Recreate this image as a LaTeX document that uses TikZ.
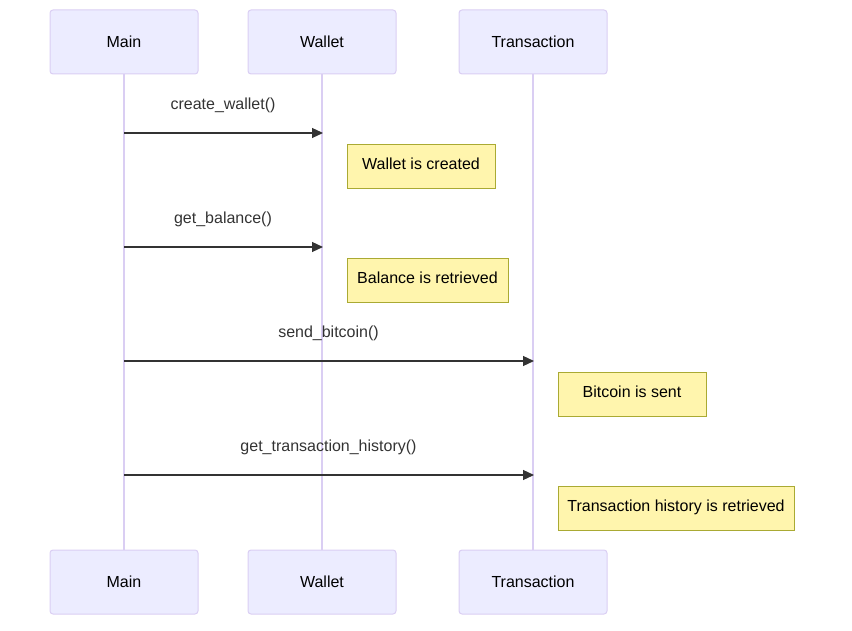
\documentclass[tikz,border=0pt]{standalone}
\usepackage{fontspec}
\setmainfont{Liberation Sans}
\usetikzlibrary{arrows.meta}
\definecolor{actfill}{HTML}{ECECFF}
\definecolor{actline}{RGB}{218,206,243}
\definecolor{notefill}{HTML}{FFF5AD}
\definecolor{noteline}{HTML}{AAAA33}
\definecolor{msg}{HTML}{333333}
\begin{document}
\begin{tikzpicture}[x=1pt,y=-1pt,
  actor/.style={draw=actline,fill=actfill,rounded corners=3pt,line width=1pt,minimum width=148pt,minimum height=64pt,inner sep=0pt,text height=11.5pt,text depth=0pt,font=\fontsize{16}{19}\selectfont},
  notebox/.style={draw=noteline,fill=notefill,line width=0.8pt,minimum height=44pt,inner sep=0pt,text height=11.5pt,text depth=4pt,font=\fontsize{16}{19}\selectfont},
  lifeline/.style={draw=actline,line width=1.5pt},
  msgline/.style={draw=msg,line width=1.2pt,-{Triangle[length=11pt,width=10pt]}},
  msglabel/.style={text=msg,inner sep=0pt,font=\fontsize{16}{19}\selectfont}]
\useasboundingbox (0,0) rectangle (852,631);
% lifelines first
\coordinate (mT) at (124,74); \coordinate (mB) at (124,550);
\coordinate (wT) at (322,74); \coordinate (wB) at (322,550);
\coordinate (tT) at (533,74); \coordinate (tB) at (533,550);
\draw[lifeline] (mT) -- (mB);
\draw[lifeline] (wT) -- (wB);
\draw[lifeline] (tT) -- (tB);
% actors
\node[actor] (main1) at (124,42) {Main};
\node[actor] (wal1) at (322,42) {Wallet};
\node[actor] (tr1) at (533,42) {Transaction};
\node[actor] (main2) at (124,582) {Main};
\node[actor] (wal2) at (322,582) {Wallet};
\node[actor] (tr2) at (533,582) {Transaction};
% message anchors
\coordinate (m1s) at (124,133); \coordinate (m1e) at (323,133);
\coordinate (m2s) at (124,247); \coordinate (m2e) at (323,247);
\coordinate (m3s) at (124,361); \coordinate (m3e) at (534,361);
\coordinate (m4s) at (124,475); \coordinate (m4e) at (534,475);
\draw[msgline] (m1s) -- (m1e);
\draw[msgline] (m2s) -- (m2e);
\draw[msgline] (m3s) -- (m3e);
\draw[msgline] (m4s) -- (m4e);
\node[msglabel] (l1) at (223,105) {create\_wallet()};
\node[msglabel] (l2) at (223,219) {get\_balance()};
\node[msglabel] (l3) at (328.5,333) {send\_bitcoin()};
\node[msglabel] (l4) at (328.5,447) {get\_transaction\_history()};
% notes
\node[notebox,minimum width=148pt] (n1) at (421,166) {Wallet is created};
\node[notebox,minimum width=161pt] (n2) at (427.5,280) {Balance is retrieved};
\node[notebox,minimum width=148pt] (n3) at (632,394) {Bitcoin is sent};
\node[notebox,minimum width=236pt] (n4) at (676,508) {Transaction history is retrieved};
\end{tikzpicture}
\end{document}
